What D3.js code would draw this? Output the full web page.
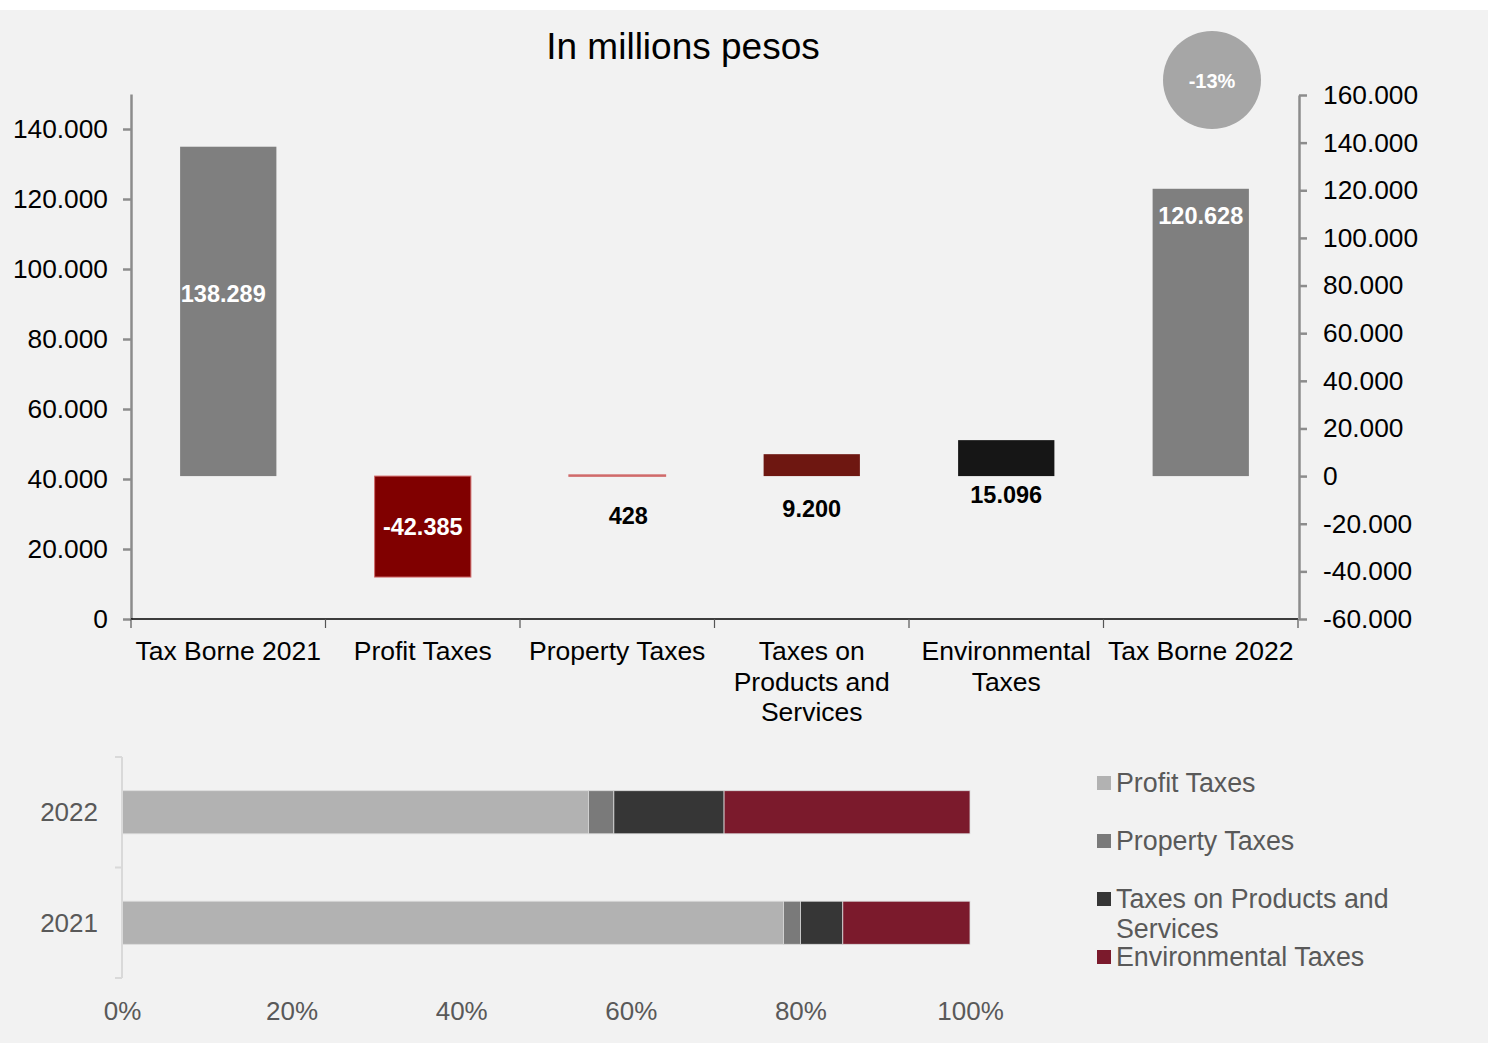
<!DOCTYPE html>
<html><head><meta charset="utf-8">
<script src="https://cdn.jsdelivr.net/npm/d3@7"></script>
<style>html,body{margin:0;padding:0;background:#fff;}svg{display:block;font-family:"Liberation Sans",Arial,sans-serif;}</style>
</head><body>
<svg id="c" width="1488" height="1043"></svg>
<script>
// ---- data ----
const categories = ["Tax Borne 2021","Profit Taxes","Property Taxes","Taxes on Products and Services","Environmental Taxes","Tax Borne 2022"];
const categoryLines = [["Tax Borne 2021"],["Profit Taxes"],["Property Taxes"],["Taxes on","Products and","Services"],["Environmental","Taxes"],["Tax Borne 2022"]];
const values = [138289, -42385, 428, 9200, 15096, 120628];
const leftTicks = [0,20000,40000,60000,80000,100000,120000,140000];
const rightTicks = [-60000,-40000,-20000,0,20000,40000,60000,80000,100000,120000,140000,160000];
const changeLabel = "-13%";
const title = "In millions pesos";

const years = ["2022","2021"];
const shareSeries = ["Profit Taxes","Property Taxes","Taxes on Products and Services","Environmental Taxes"];
const share2022 = [55, 3, 13, 29];
const share2021 = [78, 2, 5, 15];
const pctTicks = [0,20,40,60,80,100];

// ---- styles ----
const barColors = ["#7f7f7f","#800000","#c0504d","#6e1711","#161616","#7f7f7f"];
const shareColors = ["#b2b2b2","#7a7a7a","#363636","#7b1a2c"];

const loc = d3.formatLocale({decimal:",",thousands:".",grouping:[3],currency:["$",""],minus:"-"});
const fmt = loc.format(",d");

const svg = d3.select("#c");
svg.append("rect").attr("x",0).attr("y",10).attr("width",1488).attr("height",1033).attr("fill","#f2f2f2");

// title
svg.append("text").attr("x",683).attr("y",59).attr("text-anchor","middle")
  .attr("font-size",37).attr("fill","#000").text(title);

// scales
const x = d3.scaleBand().domain(categories).range([131,1298]).paddingInner(0.505).paddingOuter(0.2525);
const yL = d3.scaleLinear().domain([0,150000]).range([619,94]);
const yR = d3.scaleLinear().domain([-60000,160000]).range([619,95]);

// left axis
const gL = svg.append("g").attr("transform","translate(131,0)")
  .call(d3.axisLeft(yL).tickValues(leftTicks).tickFormat(fmt).tickSize(8).tickPadding(15).tickSizeOuter(0));
gL.select(".domain").attr("stroke","#8c8c8c").attr("stroke-width",2.5);
gL.selectAll(".tick line").attr("stroke","#8c8c8c").attr("stroke-width",2.5);
gL.selectAll("text").attr("font-size",26.3).attr("fill","#000").attr("font-family","Liberation Sans, Arial, sans-serif");

// right axis
const gR = svg.append("g").attr("transform","translate(1299,0)")
  .call(d3.axisRight(yR).tickValues(rightTicks).tickFormat(fmt).tickSize(8).tickPadding(16).tickSizeOuter(0));
gR.select(".domain").attr("stroke","#8c8c8c").attr("stroke-width",2.5);
gR.selectAll(".tick line").attr("stroke","#8c8c8c").attr("stroke-width",2.5);
gR.selectAll("text").attr("font-size",26.3).attr("fill","#000").attr("font-family","Liberation Sans, Arial, sans-serif");

// x axis line + boundary ticks
const step = x.step();
svg.append("line").attr("x1",131).attr("x2",1298).attr("y1",619).attr("y2",619).attr("stroke","#000").attr("stroke-width",1.5);
svg.selectAll(".xb").data(d3.range(categories.length+1)).enter().append("line")
  .attr("x1",i=>131+i*step).attr("x2",i=>131+i*step).attr("y1",619).attr("y2",628)
  .attr("stroke","#555").attr("stroke-width",1.2);

// category labels
categories.forEach((c,i)=>{
  const t = svg.append("text").attr("text-anchor","middle").attr("font-size",26.5).attr("fill","#000");
  categoryLines[i].forEach((ln,j)=>{
    t.append("tspan").attr("x",x(c)+x.bandwidth()/2).attr("y",660+j*30.5).text(ln);
  });
});

// bars (each measured from zero on the right axis)
svg.selectAll(".bar").data(values).enter().append("rect")
  .attr("x",(d,i)=>x(categories[i]))
  .attr("width",x.bandwidth())
  .attr("y",d=>yR(Math.max(0,d)))
  .attr("height",d=>Math.max(1,Math.abs(yR(d)-yR(0))))
  .attr("fill",(d,i)=>barColors[i])
  .attr("stroke",(d,i)=>(i===1||i===2)?"#d06a6a":"none")
  .attr("stroke-width",(d,i)=>i===2?1.5:1);

// data labels
const inside = [true,true,false,false,false,true];
const labelPos = (d,i)=>{
  if(i===0) return yR(d*0.553);
  if(i===values.length-1) return yR(d)+27;
  if(d<0) return (yR(0)+yR(d))/2;
  return yR(0)+[0,0,40,33,19][i];
};
const labelDx = [-5,0,11,0,0,0];
values.forEach((d,i)=>{
  svg.append("text").attr("x",x(categories[i])+x.bandwidth()/2+labelDx[i]).attr("y",labelPos(d,i))
    .attr("dy","0.35em").attr("text-anchor","middle").attr("font-size",23.5).attr("font-weight","bold")
    .attr("fill",inside[i]?"#fff":"#000").text(fmt(d));
});

// change bubble
svg.append("circle").attr("cx",1212).attr("cy",80).attr("r",49).attr("fill","#a6a6a6");
svg.append("text").attr("x",1212).attr("y",81).attr("dy","0.35em").attr("text-anchor","middle")
  .attr("font-size",20).attr("font-weight","bold").attr("fill","#fff").text(changeLabel);

// ---- bottom stacked 100% bar ----
const xs = d3.scaleLinear().domain([0,100]).range([122,970]);
const ys = d3.scaleBand().domain(years).range([757,978]).paddingInner(0.61).paddingOuter(0.305);
const shareData = {"2022":share2022,"2021":share2021};

years.forEach(yr=>{
  let acc = 0;
  shareData[yr].forEach((v,k)=>{
    svg.append("rect").attr("x",xs(acc)).attr("width",xs(acc+v)-xs(acc))
      .attr("y",ys(yr)).attr("height",ys.bandwidth()).attr("fill",shareColors[k])
      .attr("stroke","#dcdcdc").attr("stroke-width",0.8);
    acc += v;
  });
});

// bottom y axis
const sstep = ys.step();
svg.append("line").attr("x1",122).attr("x2",122).attr("y1",757).attr("y2",978).attr("stroke","#d9d9d9").attr("stroke-width",2);
svg.selectAll(".yb").data(d3.range(years.length+1)).enter().append("line")
  .attr("x1",115).attr("x2",122).attr("y1",i=>757+i*sstep).attr("y2",i=>757+i*sstep)
  .attr("stroke","#d9d9d9").attr("stroke-width",2);
years.forEach(yr=>{
  svg.append("text").attr("x",98).attr("y",ys(yr)+ys.bandwidth()/2).attr("dy","0.35em")
    .attr("text-anchor","end").attr("font-size",26).attr("fill","#595959").text(yr);
});

// bottom x axis labels
const gB = svg.append("g").attr("transform","translate(0,990)")
  .call(d3.axisBottom(xs).tickValues(pctTicks).tickFormat(d=>d+"%").tickSize(0).tickPadding(12));
gB.select(".domain").remove();
gB.selectAll("text").attr("font-size",26).attr("fill","#595959").attr("font-family","Liberation Sans, Arial, sans-serif");

// legend
const legendLines = [["Profit Taxes"],["Property Taxes"],["Taxes on Products and","Services"],["Environmental Taxes"]];
const legendY = [783,841,899,957];
shareSeries.forEach((s,k)=>{
  svg.append("rect").attr("x",1097).attr("y",legendY[k]-7).attr("width",14).attr("height",14).attr("fill",shareColors[k]);
  const t = svg.append("text").attr("font-size",26.8).attr("fill","#595959");
  legendLines[k].forEach((ln,j)=>{
    t.append("tspan").attr("x",1116).attr("y",legendY[k]+9+j*30).text(ln);
  });
});
</script>
</body></html>
